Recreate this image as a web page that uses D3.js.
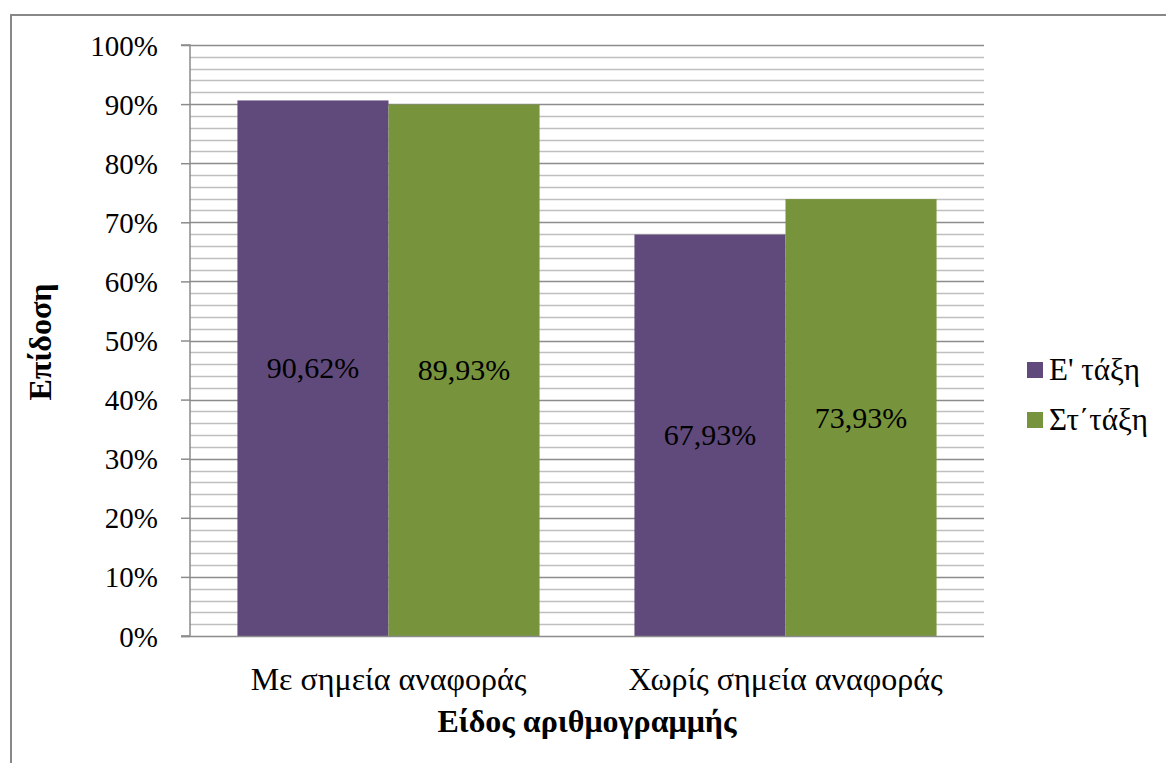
<!DOCTYPE html>
<html>
<head>
<meta charset="utf-8">
<script src="https://cdn.jsdelivr.net/npm/d3@7"></script>
<style>
  body { margin: 0; background: #fff; }
  svg { display: block; }
</style>
</head>
<body>
<svg id="chart" width="1166" height="763"></svg>
<script>
// Categories, series and values
const categories = ["Με σημεία αναφοράς", "Χωρίς σημεία αναφοράς"];
const seriesNames = ["Ε' τάξη", "Στ΄τάξη"];
const seriesColors = ["#604A7B", "#77933C"];
const valuesE = [90.62, 67.93];
const valuesST = [89.93, 73.93];
const yTickValues = [0, 10, 20, 30, 40, 50, 60, 70, 80, 90, 100];
const yMinorStep = 2;
const yTitle = "Επίδοση";
const xTitle = "Είδος αριθμογραμμής";

const seriesValues = [valuesE, valuesST];
const fmt = v => v.toFixed(2).replace(".", ",") + "%";
const FONT = "'Liberation Serif'";
const FS = 30;

const svg = d3.select("#chart");
const W = 1166, H = 763;
const plot = { left: 190, right: 984, top: 45, bottom: 636 };

// Outer frame
svg.append("path")
  .attr("d", `M11,${H + 5} V15 H${W + 5}`)
  .attr("fill", "none").attr("stroke", "#888").attr("stroke-width", 2);

const y = d3.scaleLinear().domain([0, 100]).range([plot.bottom, plot.top]);
const x0 = d3.scaleBand().domain(categories).range([plot.left, plot.right])
  .paddingInner(0.239).paddingOuter(0.1195);
const x1 = d3.scaleBand().domain(seriesNames).range([0, x0.bandwidth()]);

// Minor gridlines
const minor = d3.range(0, 100 + yMinorStep / 2, yMinorStep).filter(v => v % 10 !== 0);
svg.append("g").selectAll("line").data(minor).join("line")
  .attr("x1", plot.left).attr("x2", plot.right)
  .attr("y1", d => Math.round(y(d)) + 0.5).attr("y2", d => Math.round(y(d)) + 0.5)
  .attr("stroke", "#bfbfbf").attr("stroke-width", 1.5);

// Major gridlines
svg.append("g").selectAll("line").data(yTickValues.filter(v => v > 0)).join("line")
  .attr("x1", plot.left).attr("x2", plot.right)
  .attr("y1", d => Math.round(y(d)) + 0.5).attr("y2", d => Math.round(y(d)) + 0.5)
  .attr("stroke", "#8c8c8c").attr("stroke-width", 1.5);

// Bars
const groups = svg.append("g").selectAll("g").data(categories).join("g")
  .attr("transform", c => `translate(${x0(c)},0)`);
groups.selectAll("rect")
  .data((c, i) => seriesNames.map((s, j) => ({ s, j, v: seriesValues[j][i] })))
  .join("rect")
  .attr("x", d => x1(d.s))
  .attr("y", d => y(d.v))
  .attr("width", x1.bandwidth())
  .attr("height", d => y(0) - y(d.v))
  .attr("fill", d => seriesColors[d.j]);

// Data labels, centred in each bar
groups.selectAll("text")
  .data((c, i) => seriesNames.map((s, j) => ({ s, j, v: seriesValues[j][i] })))
  .join("text")
  .attr("x", d => x1(d.s) + x1.bandwidth() / 2)
  .attr("y", d => (y(d.v) + y(0)) / 2 + 10)
  .attr("text-anchor", "middle")
  .style("font-family", FONT)
  .style("font-size", FS + "px")
  .attr("fill", "#000")
  .text(d => fmt(d.v));

// Y axis
const yAxis = d3.axisLeft(y).tickValues(yTickValues).tickFormat(d => d + "%")
  .tickSize(9).tickPadding(23);
const gy = svg.append("g").attr("transform", `translate(${plot.left},0)`).call(yAxis);
gy.select(".domain").attr("stroke", "#8c8c8c").attr("stroke-width", 1.5)
  .attr("d", `M-9,${plot.bottom}H0V${plot.top}H-9`);
gy.selectAll(".tick line").attr("stroke", "#8c8c8c").attr("stroke-width", 1.5);
gy.selectAll(".tick text")
  .style("font-family", FONT).style("font-size", "29px")
  .attr("fill", "#000").attr("dy", null).attr("y", 10);

// X axis baseline
svg.append("line")
  .attr("x1", plot.left - 9).attr("x2", plot.right)
  .attr("y1", plot.bottom + 0.5).attr("y2", plot.bottom + 0.5)
  .attr("stroke", "#8c8c8c").attr("stroke-width", 1.5);

// Category labels
svg.append("g").selectAll("text").data(categories).join("text")
  .attr("x", c => x0(c) + x0.bandwidth() / 2)
  .attr("y", 690)
  .attr("text-anchor", "middle")
  .style("font-family", FONT)
  .style("font-size", "32px")
  .text(c => c);

// Axis titles
svg.append("text")
  .attr("x", (plot.left + plot.right) / 2)
  .attr("y", 732)
  .attr("text-anchor", "middle")
  .style("font-family", FONT)
  .style("font-size", "32px").style("font-weight", "bold")
  .text(xTitle);

svg.append("text")
  .attr("transform", `translate(51,342) rotate(-90)`)
  .attr("text-anchor", "middle")
  .style("font-family", FONT)
  .style("font-size", "32px").style("font-weight", "bold")
  .text(yTitle);

// Legend
const legend = svg.append("g").selectAll("g").data(seriesNames).join("g")
  .attr("transform", (d, i) => `translate(1027,${370 + i * 50})`);
legend.append("rect")
  .attr("x", 0).attr("y", -8).attr("width", 16).attr("height", 16)
  .attr("fill", (d, i) => seriesColors[i]);
legend.append("text")
  .attr("x", 22).attr("y", 10)
  .style("font-family", FONT)
  .style("font-size", "31px")
  .text(d => d);
</script>
</body>
</html>
